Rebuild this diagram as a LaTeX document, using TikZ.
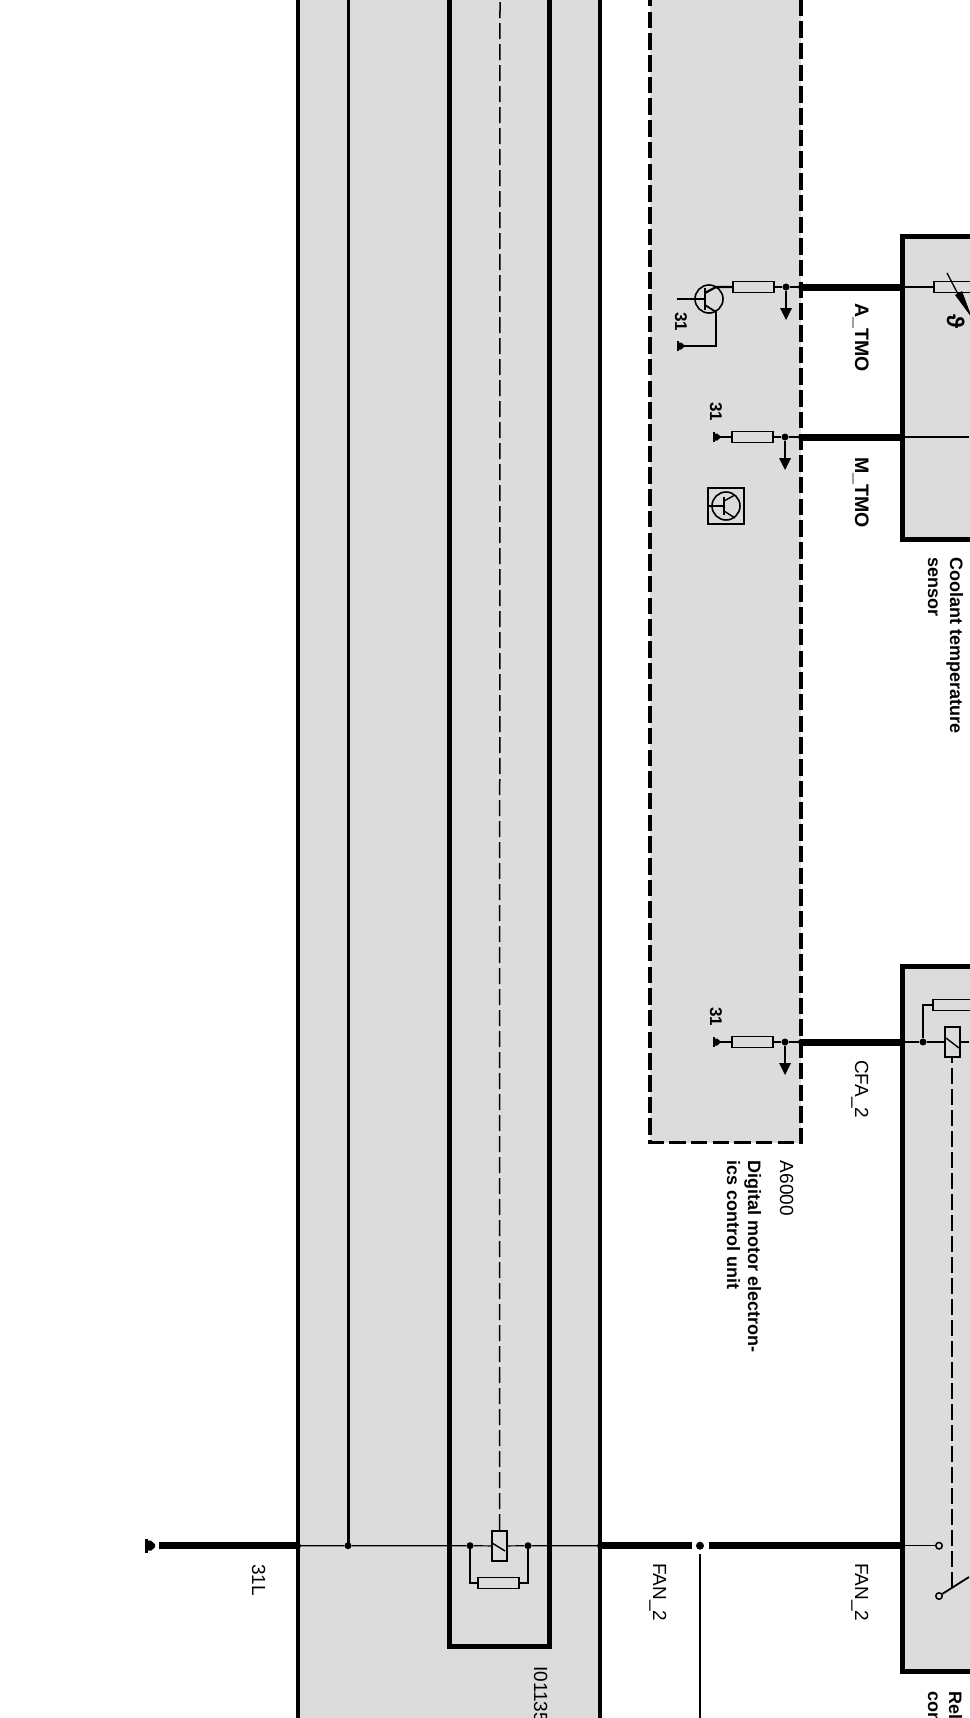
\documentclass[tikz,border=0pt]{standalone}
\usepackage{fontspec}
\setmainfont{Liberation Sans}
\definecolor{panel}{HTML}{DCDCDC}
\tikzset{
  dot/.style={circle,fill=black,inner sep=0pt,minimum size=7pt},
  smalldot/.style={circle,fill=black,inner sep=0pt,minimum size=6pt},
  res/.style={draw,fill=panel,line width=1.8pt,inner sep=0pt,minimum width=41pt,minimum height=11pt},
  coil/.style={draw,fill=panel,line width=1.8pt,inner sep=0pt,minimum width=15pt,minimum height=30pt},
  ring/.style={circle,draw,fill=panel,line width=1.5pt,inner sep=0pt,minimum size=6.5pt},
  tcircle/.style={circle,draw,line width=1.6pt,inner sep=0pt,minimum size=28pt},
  thickwire/.style={line width=7pt},
  midwire/.style={line width=2.2pt},
  thinwire/.style={line width=1.2pt},
  solid box/.style={draw,fill=panel},
  txt/.style={rotate=-90,anchor=base west,inner sep=0pt,font=\fontsize{19}{21}\selectfont},
  btxt/.style={txt,font=\fontsize{18}{21}\bfseries\selectfont},
  wiretxt/.style={txt,font=\fontsize{19.5}{21}\bfseries\selectfont},
  numtxt/.style={txt,font=\fontsize{17}{21}\bfseries\selectfont},
  gnd/.pic={
    \fill (0,-7) rectangle (2.5,7);
    \fill (2,-5) -- (6,-5) -- (10,-1.5) -- (10,1.5) -- (6,5) -- (2,5) -- cycle;
  },
  downarrow/.pic={
    \fill (-6,21) -- (6,21) -- (0,33) -- cycle;
  }
}
\begin{document}
\begin{tikzpicture}[x=1pt,y=-1pt]
\useasboundingbox (0,0) rectangle (969,1718);
% panels
\draw[solid box,line width=3.5pt] (298,-10) rectangle (600,1730);
\draw[line width=3pt] (348,-10) -- (348,1545.7);
\draw[solid box,line width=5pt] (449,-10) rectangle (549,1646);
\draw[fill=panel,line width=3.5pt,dash pattern=on 16.5pt off 5.2pt] (650,-10) -- (650,1142.7) -- (801,1142.7) -- (801,-10);
\draw[solid box,line width=5pt] (902.5,236) rectangle (990,539);
\draw[solid box,line width=5pt] (902.5,966) rectangle (990,1671);

% left wire
\coordinate (w0) at (159,1545.7);
\node[smalldot] (w1) at (298,1545.7) {};
\node[dot] (w2) at (348,1545.7) {};
\node[dot] (w3) at (470,1545.7) {};
\node[coil] (k1) at (499.5,1546) {};
\node[dot] (w4) at (528,1545.7) {};
\node[smalldot] (w5) at (600,1545.7) {};
\coordinate (w6) at (692,1545.7);
\node[dot,minimum size=8pt] (fan) at (700,1545.7) {};
\coordinate (w7) at (709,1545.7);
\coordinate (w8) at (902.5,1545.7);
\coordinate (fan1) at (700,1554);
\coordinate (fan2) at (700,1730);
\node[ring] (s1) at (939,1545.7) {};
\node[ring] (s2) at (939,1596) {};
\coordinate (s3) at (969,1577);
\coordinate (s4) at (952,1588);
\node[res] (r1) at (498.5,1583) {};
\coordinate (k1top) at (500,-10);
\pic at (145,1545.7) {gnd};
\draw[thickwire] (w0) -- (w1.center);
\draw[thickwire] (w5.center) -- (w6);
\draw[thickwire] (w7) -- (w8);
\draw[thinwire] (w1) -- (w2) -- (w3) -- (k1);
\draw[thinwire] (k1) -- (w4) -- (w5);
\draw[thinwire] (w8) -- (s1);
\draw[line width=1.4pt] (fan1) -- (fan2);
\draw[midwire] (w3) |- (r1);
\draw[midwire] (w4) |- (r1);
\draw[line width=1.4pt] (k1.west) ++(1,-3) -- ++(13,8);
\draw[line width=1.5pt,dash pattern=on 16pt off 5pt] (k1.north) -- (k1top);
\draw[line width=1.8pt] (s2) -- (s3);
\draw[line width=1.5pt,dash pattern=on 16pt off 5pt] (s4) -- (952,1057);

% A6000 side
\node[dot] (ja) at (786,287) {};
\node[smalldot] (ea) at (801,287) {};
\coordinate (sa) at (902.5,287);
\node[res] (ra) at (753.5,287) {};
\node[tcircle] (qa) at (709,299) {};
\coordinate (qc) at (716,287);
\coordinate (qe) at (716,312);
\coordinate (qg) at (684,346);
\coordinate (qb) at (677,299);
\coordinate (qbar) at (705,299);
\node[res,minimum width=40pt] (ntc) at (954,287) {};
\draw[thickwire] (ea.center) -- (sa);
\draw[midwire] (ntc) -- (sa);
\draw[midwire] (ea) -- (ja) -- (ra);
\draw[midwire] (ra) -- (qc) -- (705,293);
\draw[line width=2.4pt] (705,288) -- (705,310);
\draw[line width=1.8pt] (qb) -- (qbar);
\draw[line width=1.8pt] (705,305) -- (qe) -- (716,346) -- (qg);
\pic[scale=.7] at (677,346) {gnd};
\pic at (786,287) {downarrow};
\draw[line width=1.8pt] (ja) -- ++(0,24);
\draw[line width=1.3pt] (947,273) -- (959,296);
\fill (955,295) -- (962,291) -- (972,318) -- cycle;
\node[btxt,font=\fontsize{24}{26}\bfseries\selectfont] (thetalabel) at (947,314) {ϑ};

\node[dot] (jb) at (785,437) {};
\node[smalldot] (eb) at (801,437) {};
\coordinate (sb) at (902.5,437);
\coordinate (sb2) at (969,437);
\node[res] (rb) at (752.5,437) {};
\coordinate (gb) at (718,437);
\draw[thickwire] (eb.center) -- (sb);
\draw[thinwire] (sb) -- (sb2);
\draw[midwire] (eb) -- (jb) -- (rb);
\draw[midwire] (rb) -- (gb);
\pic[scale=.7] at (713,437) {gnd};
\pic at (785,437) {downarrow};
\draw[line width=1.8pt] (jb) -- ++(0,24);

\node[dot] (jc) at (785,1042) {};
\node[smalldot] (ec) at (801,1042) {};
\coordinate (sc) at (902.5,1042);
\node[res] (rc) at (752.5,1042) {};
\coordinate (gc) at (718,1042);
\node[dot] (jd) at (923,1042) {};
\node[coil] (k2) at (952.5,1042) {};
\coordinate (sc2) at (969,1042);
\node[res,minimum width=50pt] (rd) at (958,1005) {};
\draw[thickwire] (ec.center) -- (sc);
\draw[thinwire] (sc) -- (jd);
\draw[thinwire] (jd) -- (k2) -- (sc2);
\draw[midwire] (ec) -- (jc) -- (rc);
\draw[midwire] (rc) -- (gc);
\draw[line width=2.8pt] (jd) |- (rd);
\draw[line width=1.4pt] (946,1038) -- (959,1048);
\pic[scale=.7] at (713,1042) {gnd};
\pic at (785,1042) {downarrow};
\draw[line width=1.8pt] (jc) -- ++(0,24);

% transistor sign
\node[draw,line width=1.8pt,minimum size=36pt,inner sep=0pt] (sq) at (726,506) {};
\node[tcircle] (qs) at (726,506) {};
\draw[line width=1.4pt] (sq.west) -- (724,506);
\draw[line width=1.8pt] (724,497) -- (724,515);
\draw[line width=1.4pt] (724,501) -- (735,495);
\draw[line width=1.4pt] (724,511) -- (735,518);

% labels
\node[wiretxt] (atmo) at (855,303) {A\_TMO};
\node[wiretxt] (mtmo) at (855,457) {M\_TMO};
\node[txt] (cfa) at (855,1060) {CFA\_2};
\node[txt] (fanr) at (855,1563) {FAN\_2};
\node[txt] (fanl) at (653,1563) {FAN\_2};
\node[txt] (lab31) at (252,1564) {31L};
\node[txt] (ident) at (534,1666) {I01135};
\node[txt] (a6000) at (780,1160.7) {A6000};
\node[btxt] (dme1) at (748,1160.7) {Digital motor electron-};
\node[btxt] (dme2) at (727,1160.7) {ics control unit};
\node[btxt] (cool1) at (950,557) {Coolant temperature};
\node[btxt] (cool2) at (928,557) {sensor};
\node[btxt] (rel1) at (949,1691) {Rel};
\node[btxt] (rel2) at (928,1691) {con};
\node[numtxt] (g1) at (675,312) {31};
\node[numtxt] (g2) at (710,402) {31};
\node[numtxt] (g3) at (710,1007) {31};
\end{tikzpicture}
\end{document}
